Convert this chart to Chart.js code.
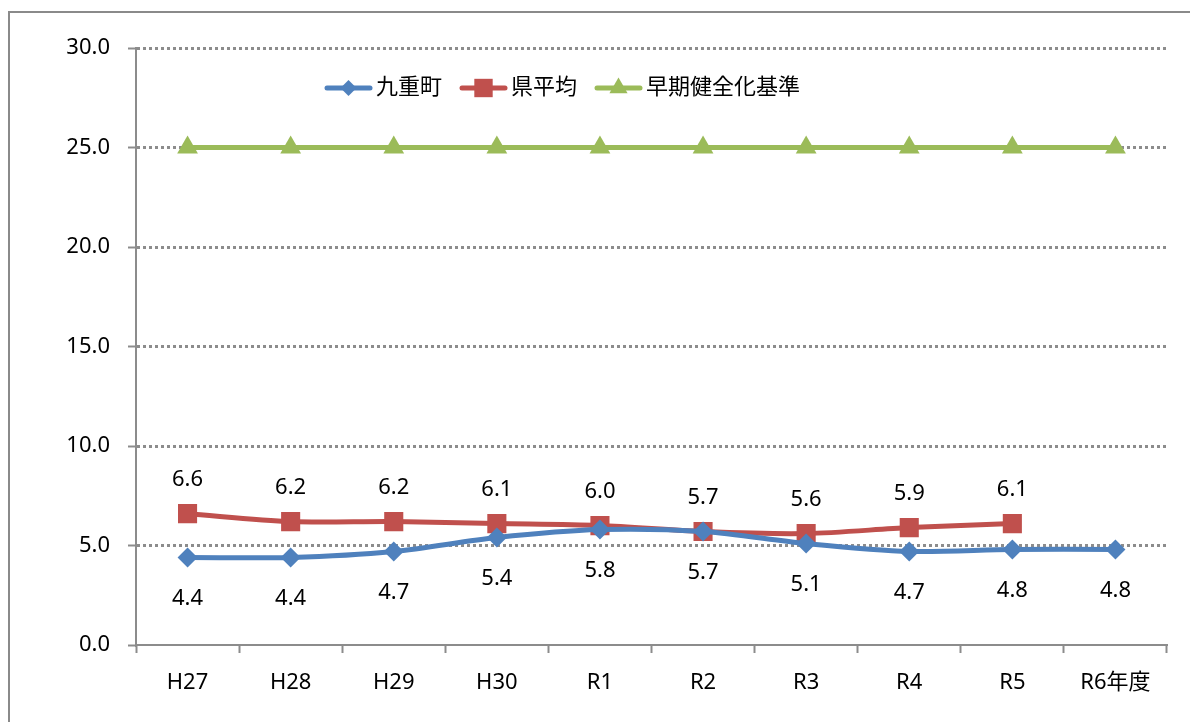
<!DOCTYPE html>
<html>
<head>
<meta charset="utf-8">
<script src="https://cdn.jsdelivr.net/npm/chart.js@4"></script>
<style>
  html, body { margin: 0; padding: 0; background: #fff; }
  #wrap { width: 1190px; height: 722px; }
</style>
</head>
<body>
<div id="wrap"><canvas id="chart" width="1190" height="722"></canvas></div>
<script>
// data
var years = ['H27', 'H28', 'H29', 'H30', 'R1', 'R2', 'R3', 'R4', 'R5', 'R6年度'];
var kokonoe = [4.4, 4.4, 4.7, 5.4, 5.8, 5.7, 5.1, 4.7, 4.8, 4.8];
var kenAvg = [6.6, 6.2, 6.2, 6.1, 6.0, 5.7, 5.6, 5.9, 6.1, null];
var kijun = [25, 25, 25, 25, 25, 25, 25, 25, 25, 25];
var seriesNames = ['九重町', '県平均', '早期健全化基準'];

var fontFam = '"Noto Sans", "Noto Sans CJK JP", sans-serif';
var gray = '#8c8c8c';

// outer frame of the chart object
var framePlugin = {
    id: 'frame',
    beforeDraw: function(chart) {
        var c = chart.ctx;
        c.save();
        c.strokeStyle = '#8a8a8a';
        c.lineWidth = 2;
        c.strokeRect(9, 12, 1200, 760);
        c.restore();
    }
};

// value labels: 九重町 below, 県平均 above
var labelPlugin = {
    id: 'vlabels',
    afterDatasetsDraw: function(chart) {
        var c = chart.ctx;
        c.save();
        c.font = '22px ' + fontFam;
        c.fillStyle = '#000';
        c.textAlign = 'center';
        c.textBaseline = 'middle';
        [0, 1].forEach(function(di) {
            var meta = chart.getDatasetMeta(di);
            var ds = chart.data.datasets[di];
            meta.data.forEach(function(pt, i) {
                var v = ds.data[i];
                if (v === null || v === undefined) return;
                var dy = di === 0 ? 41 : -34;
                c.fillText(v.toFixed(1), pt.x, pt.y + dy);
            });
        });
        c.restore();
    }
};

// legend drawn inside the plot area
var legendPlugin = {
    id: 'inlegend',
    afterDraw: function(chart) {
        var c = chart.ctx;
        var items = [
            { x: 325, shape: 'rectRot', r: 8 },
            { x: 460, shape: 'rect', r: 13 },
            { x: 595, shape: 'triangle', r: 10.5 }
        ];
        var y = 88;
        c.save();
        c.font = '22px ' + fontFam;
        c.textBaseline = 'middle';
        c.textAlign = 'left';
        items.forEach(function(it, i) {
            var ds = chart.data.datasets[i];
            c.strokeStyle = ds.borderColor;
            c.lineWidth = 5;
            c.lineCap = 'round';
            c.beginPath();
            c.moveTo(it.x + 2, y);
            c.lineTo(it.x + 45, y);
            c.stroke();
            c.fillStyle = ds.borderColor;
            Chart.helpers.drawPoint(c, {
                pointStyle: it.shape, radius: it.r, borderWidth: 0
            }, it.x + 23.5, y);
            c.fillStyle = '#000';
            c.fillText(seriesNames[i], it.x + 51, y);
        });
        c.restore();
    }
};

var ctx = document.getElementById('chart').getContext('2d');
var chart = new Chart(ctx, {
    type: 'line',
    data: {
        labels: years,
        datasets: [
            {
                label: seriesNames[0],
                data: kokonoe,
                borderColor: '#4F81BD',
                backgroundColor: '#4F81BD',
                borderWidth: 5,
                pointStyle: 'rectRot',
                pointRadius: 10,
                pointBorderWidth: 0,
                tension: 0.3
            },
            {
                label: seriesNames[1],
                data: kenAvg,
                borderColor: '#C0504D',
                backgroundColor: '#C0504D',
                borderWidth: 5,
                pointStyle: 'rect',
                pointRadius: 13.5,
                pointBorderWidth: 0,
                tension: 0.3
            },
            {
                label: seriesNames[2],
                data: kijun,
                borderColor: '#9BBB59',
                backgroundColor: '#9BBB59',
                borderWidth: 5,
                pointStyle: 'triangle',
                pointRadius: 12,
                pointBorderWidth: 0
            }
        ]
    },
    options: {
        responsive: false,
        animation: false,
        layout: { padding: { left: 0, right: 23, top: 48, bottom: 0 } },
        plugins: {
            legend: { display: false },
            tooltip: { enabled: false }
        },
        scales: {
            x: {
                offset: true,
                afterFit: function(s) { s.height = 77; },
                grid: {
                    drawOnChartArea: false,
                    drawTicks: true,
                    tickLength: 8,
                    tickColor: gray,
                    tickWidth: 2,
                    offset: true
                },
                border: { color: gray, width: 2 },
                ticks: {
                    color: '#000',
                    font: { size: 22, family: fontFam },
                    padding: 17,
                    maxRotation: 0,
                    autoSkip: false
                }
            },
            y: {
                min: 0,
                max: 30,
                afterFit: function(s) { s.width = 136; },
                grid: {
                    color: function(c) { return c.tick && c.tick.value === 0 ? 'rgba(0,0,0,0)' : gray; },
                    lineWidth: 3,
                    drawTicks: true,
                    tickLength: 8,
                    tickColor: gray,
                    tickWidth: 2,
                    tickBorderDash: []
                },
                border: { color: gray, width: 2, dash: [3, 3] },
                ticks: {
                    stepSize: 5,
                    color: '#000',
                    font: { size: 22, family: fontFam },
                    padding: 18,
                    callback: function(v) { return v.toFixed(1); }
                }
            }
        }
    },
    plugins: [framePlugin, labelPlugin, legendPlugin]
});
</script>
</body>
</html>
